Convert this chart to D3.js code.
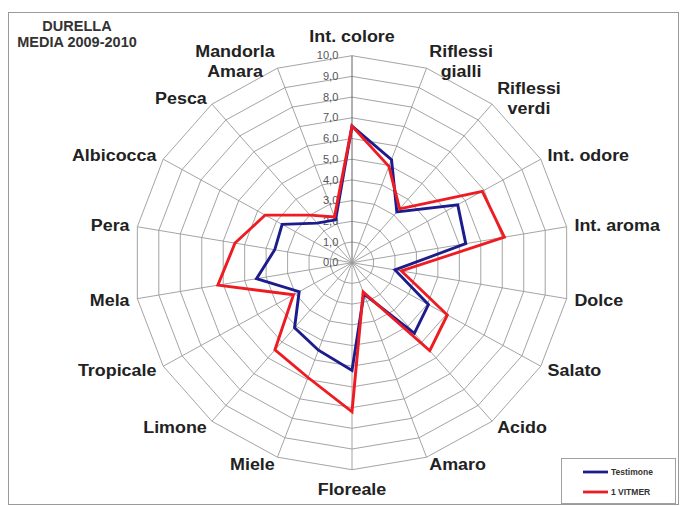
<!DOCTYPE html>
<html>
<head>
<meta charset="utf-8">
<script src="https://cdn.jsdelivr.net/npm/d3@7"></script>
<style>
  body { margin: 0; background: #fff; }
  text { font-family: "Liberation Sans", Arial, sans-serif; }
</style>
</head>
<body>
<div id="chart"></div>
<script>
// attributes, clockwise from the top ("\n" = line break in the label)
const attributes = ["Int. colore", "Riflessi\ngialli", "Riflessi\nverdi", "Int. odore", "Int. aroma",
  "Dolce", "Salato", "Acido", "Amaro", "Floreale", "Miele", "Limone", "Tropicale",
  "Mela", "Pera", "Albicocca", "Pesca", "Mandorla\nAmara"];
const testimone = [6.6, 5.3, 3.2, 5.6, 5.3, 2.0, 4.05, 4.45, 1.6, 5.2, 4.5, 4.1, 2.8, 4.45, 3.6, 3.7, 2.5, 2.2];
const vitmer = [6.6, 4.95, 3.4, 6.9, 7.1, 2.3, 5.05, 5.55, 1.5, 7.2, 5.9, 5.5, 3.1, 6.25, 5.45, 4.6, 3.0, 2.35];
const seriesNames = ["Testimone", "1 VITMER"];
const seriesColors = ["#1c1c8c", "#ee1c22"];
const tickValues = [0, 1, 2, 3, 4, 5, 6, 7, 8, 9, 10];
const titleLines = ["DURELLA", "MEDIA 2009-2010"];

var W = 680, H = 506;
var cx = 352, cy = 262.7, stretch = 1.053;
var radius = 207;

var svg = d3.select("#chart")
  .append("svg")
  .attr("width", W)
  .attr("height", H);

// outer frame
svg.append("rect")
  .attr("x", 8.5).attr("y", 12.5)
  .attr("width", 670).attr("height", 492)
  .attr("fill", "#fff")
  .attr("stroke", "#9a9a9a");

var r = d3.scaleLinear().domain([0, 10]).range([0, radius]);
var angle = d3.scaleLinear().domain([0, attributes.length]).range([0, 2 * Math.PI]);

var g = svg.append("g")
  .attr("transform", "translate(" + cx + "," + cy + ") scale(" + stretch + ",1)");

// rings
tickValues.slice(1).forEach(function (v) {
  g.append("path")
    .datum(attributes)
    .attr("fill", "none")
    .attr("stroke", "#9c9c9c")
    .attr("stroke-width", 0.9)
    .attr("d", d3.lineRadial()
      .angle((d, i) => angle(i))
      .radius(r(v))
      .curve(d3.curveLinearClosed));
});

// spokes
g.selectAll("line.spoke")
  .data(attributes)
  .enter()
  .append("line")
  .attr("class", "spoke")
  .attr("x1", 0).attr("y1", 0)
  .attr("x2", (d, i) => r(10) * Math.sin(angle(i)))
  .attr("y2", (d, i) => -r(10) * Math.cos(angle(i)))
  .attr("stroke", (d, i) => i == 0 ? "#555" : "#9c9c9c")
  .attr("stroke-width", 0.9);

// value axis labels
g.selectAll("text.tick")
  .data(tickValues)
  .enter()
  .append("text")
  .attr("class", "tick")
  .attr("x", -13)
  .attr("y", (d) => -r(d))
  .attr("dy", "0.35em")
  .attr("text-anchor", "end")
  .attr("fill", "#555")
  .style("font-size", "10.5px")
  .text((d) => d3.format(".1f")(d).replace(".", ","));

// series
var series = [testimone, vitmer];
series.forEach(function (vals, k) {
  g.append("path")
    .datum(vals)
    .attr("fill", "none")
    .attr("stroke", seriesColors[k])
    .attr("stroke-width", 2.8)
    .attr("stroke-linejoin", "miter")
    .attr("d", d3.lineRadial()
      .angle((d, i) => angle(i))
      .radius((d) => r(d))
      .curve(d3.curveLinearClosed));
});

// category labels
var fs = 17, lh = 20, pad = 7.5;
attributes.forEach(function (name, i) {
  var a = angle(i), s = Math.sin(a), c = Math.cos(a);
  var lines = name.split("\n");
  var px = (radius + pad) * s, py = -(radius + pad) * c;
  var t = g.append("text")
    .attr("fill", "#222")
    .style("font-size", fs + "px")
    .style("font-weight", "bold");
  var spans = lines.map((l) => t.append("tspan").text(l));
  var boxW = d3.max(spans, (sp) => sp.node().getComputedTextLength());
  var h = lines.length * lh;
  var midX, midY;
  if (Math.abs(s) < 0.1) {
    midX = px;
    midY = py - c * (h / 2 + 2);
  } else {
    midX = s > 0 ? px + boxW / 2 : px - boxW / 2;
    midY = py;
  }
  t.attr("text-anchor", "middle");
  spans.forEach(function (sp, k) {
    sp.attr("x", midX)
      .attr("y", midY + (k - (lines.length - 1) / 2) * lh + fs * 0.35);
  });
});

// title
svg.selectAll("text.title")
  .data(titleLines)
  .enter()
  .append("text")
  .attr("class", "title")
  .attr("x", 77)
  .attr("y", (d, i) => 30.5 + i * 16)
  .attr("text-anchor", "middle")
  .attr("fill", "#333")
  .style("font-size", "14.5px")
  .style("font-weight", "bold")
  .text((d) => d);

// legend
var lg = svg.append("g").attr("transform", "translate(561,458)");
lg.append("rect")
  .attr("x", 0.5).attr("y", 0.5)
  .attr("width", 114).attr("height", 45)
  .attr("fill", "#fff")
  .attr("stroke", "#a0a0a0");
seriesNames.forEach(function (n, k) {
  lg.append("line")
    .attr("x1", 22).attr("x2", 47)
    .attr("y1", 14 + k * 20).attr("y2", 14 + k * 20)
    .attr("stroke", seriesColors[k])
    .attr("stroke-width", 2.8);
  lg.append("text")
    .attr("x", 50)
    .attr("y", 14 + k * 20)
    .attr("dy", "0.35em")
    .attr("fill", "#333")
    .style("font-size", "8.5px")
    .style("font-weight", "bold")
    .text(n);
});
</script>
</body>
</html>
